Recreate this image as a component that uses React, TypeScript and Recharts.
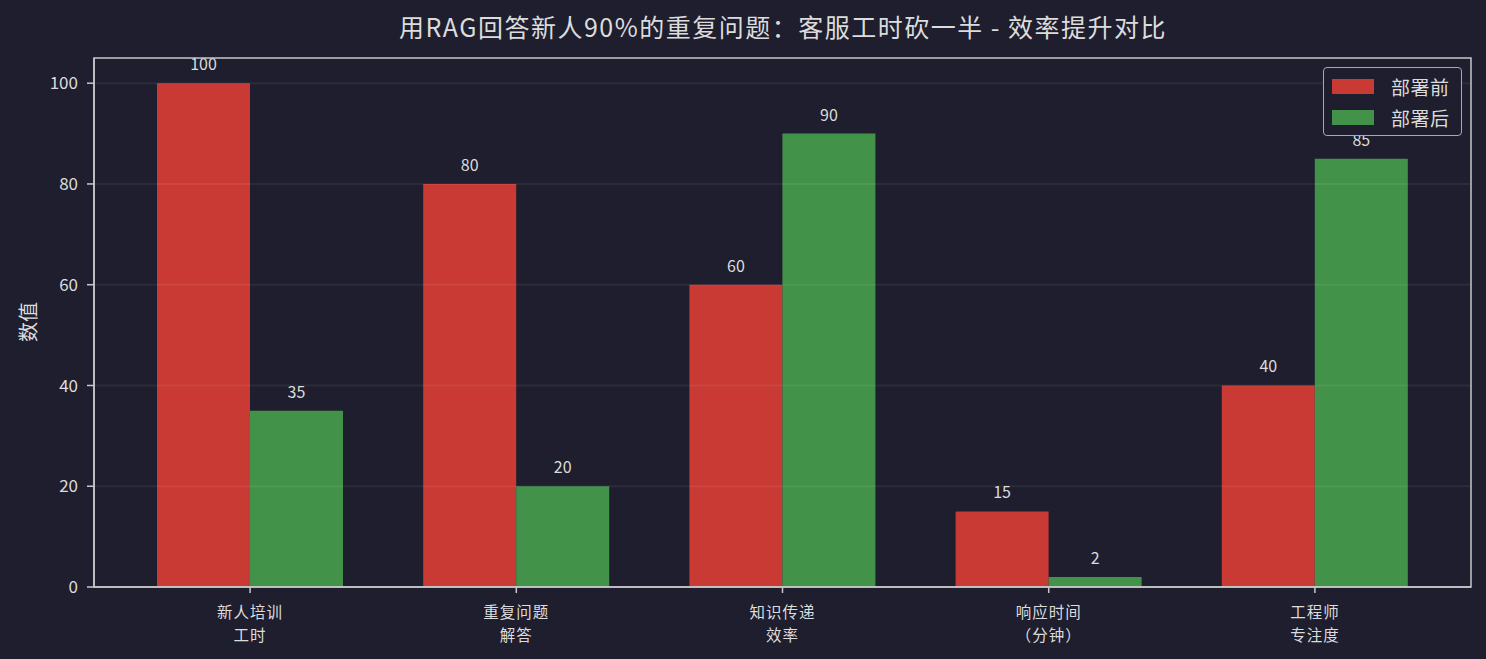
import React from 'react';
import { BarChart, Bar, XAxis, YAxis, ReferenceLine, Legend, LabelList } from 'recharts';

const categories = ['新人培训\n工时', '重复问题\n解答', '知识传递\n效率', '响应时间\n（分钟）', '工程师\n专注度'];
const beforeValues = [100, 80, 60, 15, 40];
const afterValues = [35, 20, 90, 2, 85];
const yTicks = [0, 20, 40, 60, 80, 100];
const seriesNames = ['部署前', '部署后'];

const data = categories.map((c, i) => ({ name: c, before: beforeValues[i], after: afterValues[i] }));

const BG = '#1e1e2e';
const TEXT = '#dcdcdc';
const AXIS = '#c8c8c8';
const RED = '#c93a35';
const GREEN = '#43924a';
const FONT = '"Noto Sans CJK SC", "Noto Sans", sans-serif';

const W = 1486;
const H = 659;
const M = { top: 58, right: 15, bottom: 72, left: 94 };

const XTick = (props: any) => {
  const { x, y, payload } = props;
  const lines = String(payload.value).split('\n');
  return (
    <text x={x} y={y + 23} textAnchor="middle" fill={TEXT} fontSize={15.5} letterSpacing={1} fontFamily={FONT}>
      {lines.map((l, i) => (
        <tspan key={i} x={x} dy={i === 0 ? 0 : 22.6}>
          {l}
        </tspan>
      ))}
    </text>
  );
};

const renderLegend = () => {
  const colors = [RED, GREEN];
  return (
    <div
      style={{
        width: 137,
        height: 67,
        border: '1.5px solid #a8a8b0',
        borderRadius: 4,
        background: BG,
        boxSizing: 'content-box',
        position: 'relative',
        fontFamily: FONT,
      }}
    >
      {seriesNames.map((n, i) => (
        <div key={n} style={{ position: 'absolute', left: 8, top: 11 + i * 31, height: 15, display: 'flex', alignItems: 'center' }}>
          <div style={{ width: 42, height: 15, background: colors[i] }} />
          <span style={{ marginLeft: 17, color: TEXT, fontSize: 19, lineHeight: '15px', letterSpacing: 0.5 }}>{n}</span>
        </div>
      ))}
    </div>
  );
};

export default function App() {
  return (
    <div style={{ position: 'absolute', left: 0, top: 0, width: W, height: H, background: BG }}>
      <BarChart
        width={W}
        height={H}
        data={data}
        margin={{ top: M.top, right: M.right, bottom: 0, left: 0 }}
        barCategoryGap={40}
        barGap={0}
        style={{ background: BG }}
      >
        <text x={783} y={37} textAnchor="middle" fill={TEXT} fontSize={25} letterSpacing={1.5} fontFamily={FONT}>
          用RAG回答新人90%的重复问题：客服工时砍一半 - 效率提升对比
        </text>
        <text
          x={27}
          y={322}
          textAnchor="middle"
          dominantBaseline="central"
          fill={TEXT}
          fontSize={20}
          fontFamily={FONT}
          transform="rotate(-90 27 322)"
        >
          数值
        </text>
        <XAxis
          dataKey="name"
          padding={{ left: 23, right: 23 }}
          tick={<XTick />}
          interval={0}
          stroke={AXIS}
          strokeWidth={1.5}
          tickLine={{ stroke: AXIS }}
          tickSize={6}
          height={M.bottom}
        />
        <YAxis
          domain={[0, 105]}
          ticks={yTicks}
          allowDataOverflow
          stroke={AXIS}
          strokeWidth={1.5}
          tick={{ fill: TEXT, fontSize: 17, fontFamily: FONT }}
          tickSize={7}
          tickMargin={9}
          width={M.left}
        />
        <Legend
          content={renderLegend}
          layout="horizontal"
          align="center"
          verticalAlign="middle"
          wrapperStyle={{ top: 67, right: 24, left: 'auto', width: 'auto' }}
        />
        <Bar dataKey="before" name={seriesNames[0]} fill={RED} barSize={93} isAnimationActive={false}>
          <LabelList dataKey="before" position="top" offset={13} fill={TEXT} fontSize={16} fontFamily={FONT} />
        </Bar>
        <Bar dataKey="after" name={seriesNames[1]} fill={GREEN} barSize={93} isAnimationActive={false}>
          <LabelList dataKey="after" position="top" offset={13} fill={TEXT} fontSize={16} fontFamily={FONT} />
        </Bar>
        {yTicks.slice(1).map((t) => (
          <ReferenceLine key={t} y={t} stroke="#ffffff" strokeOpacity={0.06} strokeWidth={2} />
        ))}
      </BarChart>
      <svg
        width={W}
        height={H}
        style={{ position: 'absolute', left: 0, top: 0, pointerEvents: 'none' }}
      >
        <rect
          x={M.left}
          y={M.top}
          width={W - M.left - M.right}
          height={H - M.top - M.bottom}
          fill="none"
          stroke={AXIS}
          strokeWidth={1.5}
        />
      </svg>
    </div>
  );
}
